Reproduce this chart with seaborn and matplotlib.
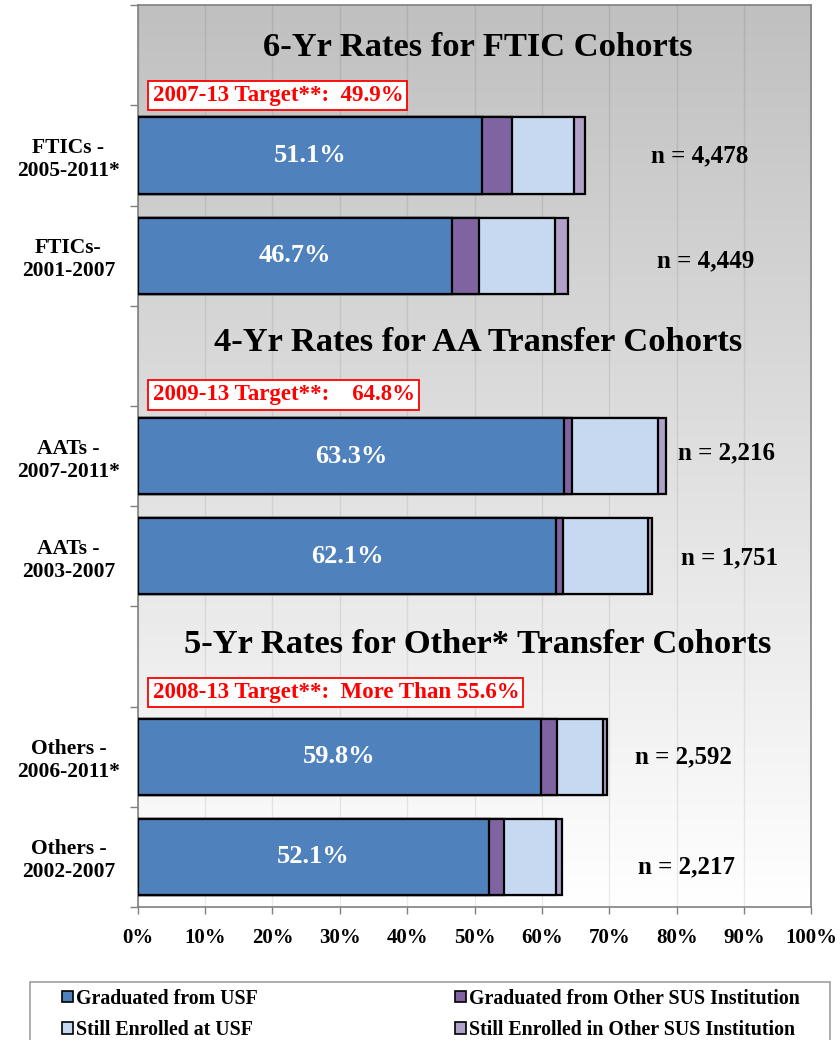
import numpy as np
import pandas as pd
import matplotlib.pyplot as plt
import seaborn as sns
from matplotlib.colors import LinearSegmentedColormap
from matplotlib.patches import Patch, Rectangle

# data
cohorts = ["FTICs -\n2005-2011*", "FTICs-\n2001-2007",
           "AATs -\n2007-2011*", "AATs -\n2003-2007",
           "Others -\n2006-2011*", "Others -\n2002-2007"]
grad_usf = [51.1, 46.7, 63.3, 62.1, 59.8, 52.1]
grad_sus = [4.4, 4.0, 1.1, 1.0, 2.4, 2.2]
enrolled_usf = [9.2, 11.2, 12.8, 12.6, 6.9, 7.8]
enrolled_sus = [1.7, 2.0, 1.2, 0.7, 0.5, 0.8]
n_sizes = ["4,478", "4,449", "2,216", "1,751", "2,592", "2,217"]
section_titles = ["6-Yr Rates for FTIC Cohorts",
                  "4-Yr Rates for AA Transfer Cohorts",
                  "5-Yr Rates for Other* Transfer Cohorts"]
targets = ["2007-13 Target**:  49.9%",
           "2009-13 Target**:    64.8%",
           "2008-13 Target**:  More Than 55.6%"]
series_names = ["Graduated from USF", "Graduated from Other SUS Institution",
                "Still Enrolled at USF", "Still Enrolled in Other SUS Institution"]
colors = ["#4F81BD", "#8064A2", "#C6D9F1", "#B1A0C7"]

sns.set_style("white")
plt.rcParams['font.family'] = ['Liberation Serif', 'DejaVu Serif']
plt.rcParams['text.color'] = 'black'
plt.rcParams['xtick.color'] = 'black'
plt.rcParams['ytick.color'] = 'black'

df = pd.DataFrame({'cohort': cohorts, 'grad_usf': grad_usf, 'grad_sus': grad_sus,
                   'enr_usf': enrolled_usf, 'enr_sus': enrolled_sus})
df['c1'] = df['grad_usf']
df['c2'] = df['c1'] + df['grad_sus']
df['c3'] = df['c2'] + df['enr_usf']
df['c4'] = df['c3'] + df['enr_sus']

# 9 slots: a title slot in front of each pair of cohorts
order = ["_t0", cohorts[0], cohorts[1], "_t1", cohorts[2], cohorts[3],
         "_t2", cohorts[4], cohorts[5]]

fig = plt.figure(figsize=(8.4, 10.4), dpi=100)
ax = fig.add_axes([0.164, 0.128, 0.802, 0.867])

# background gradient
cmap = LinearSegmentedColormap.from_list('bg', ['#c0c0c0', '#ffffff'])
ax.imshow(np.linspace(0, 1, 256).reshape(-1, 1), cmap=cmap, aspect='auto',
          extent=[0, 100, 8.5, -0.5], zorder=0)

for col, c in zip(['c4', 'c3', 'c2', 'c1'], colors[::-1]):
    sns.barplot(data=df, x=col, y='cohort', order=order, orient='h', color=c,
                width=0.76, edgecolor='black', linewidth=1.6, errorbar=None,
                saturation=1, ax=ax, zorder=3)

ax.set_xlim(0, 100)
ax.set_ylim(8.5, -0.5)
ax.set_xlabel('')
ax.set_ylabel('')

# grid and spines
ax.set_xticks(np.arange(0, 101, 10))
ax.set_xticklabels([f"{v}%" for v in range(0, 101, 10)], fontsize=15, fontweight='bold')
ax.xaxis.grid(True, color='black', alpha=0.08, linewidth=1)
for g in ax.get_xgridlines():
    g.set_zorder(1)
ax.tick_params(axis='x', length=5, width=1, color='#808080', pad=10, direction='out', bottom=True)
for s in ax.spines.values():
    s.set_color('#808080')
    s.set_linewidth(1.2)
    s.set_visible(True)

ax.set_yticks(range(9))
ax.set_yticklabels(["" if o.startswith("_") else o for o in order],
                   fontsize=15.5, fontweight='bold', ha='center', multialignment='center')
ax.tick_params(axis='y', which='major', length=0, pad=50)
ax.set_yticks(np.arange(-0.5, 9, 1), minor=True)
ax.tick_params(axis='y', which='minor', length=6, width=1, color='#808080', left=True)

# section titles and target boxes
title_y = [-0.08, 2.87, 5.88]
target_y = [0.4, 3.39, 6.36]
for t, ty, tg, gy in zip(section_titles, title_y, targets, target_y):
    ax.text(50.5, ty, t, ha='center', va='center', fontsize=24.8, fontweight='bold', zorder=5)
    ax.text(2.2, gy, tg, ha='left', va='center', fontsize=16.5, fontweight='bold', color='#FF0000',
            zorder=5, bbox=dict(boxstyle='square,pad=0.18', facecolor='white', edgecolor='#FF0000', linewidth=1.3))

# value labels and n labels
slot_y = [1, 2, 4, 5, 7, 8]
n_pos = [(83.4, 1.0), (84.3, 2.05), (87.4, 3.97), (87.8, 5.02), (81.0, 7.0), (81.5, 8.1)]
for y, v, n, (nx, ny) in zip(slot_y, grad_usf, n_sizes, n_pos):
    ax.text(v / 2, y, f"{v:.1f}%", ha='center', va='center', color='white',
            fontsize=19, fontweight='bold', zorder=6)
    ax.text(nx, ny, f"n = {n}", ha='center', va='center', fontsize=18, fontweight='bold', zorder=6)

# legend: frame drawn separately, entries row-wise
fig.patches.append(Rectangle((0.0357, -0.01), 0.9524, 0.0658, transform=fig.transFigure,
                             facecolor='white', edgecolor='#a0a0a0', linewidth=1.2))
handles = [Patch(facecolor=c, edgecolor='black', linewidth=1.2) for c in colors]
idx = [0, 2, 1, 3]
leg = fig.legend([handles[i] for i in idx], [series_names[i] for i in idx], ncol=2,
                 loc='upper left', bbox_to_anchor=(0.0738, 0.0495), frameon=False,
                 prop={'weight': 'bold', 'size': 14.3},
                 handlelength=0.55, handleheight=0.55, handletextpad=0.15, labelspacing=0.6,
                 columnspacing=9.95, borderaxespad=0, borderpad=0)

fig.savefig('out.png', dpi=100)
